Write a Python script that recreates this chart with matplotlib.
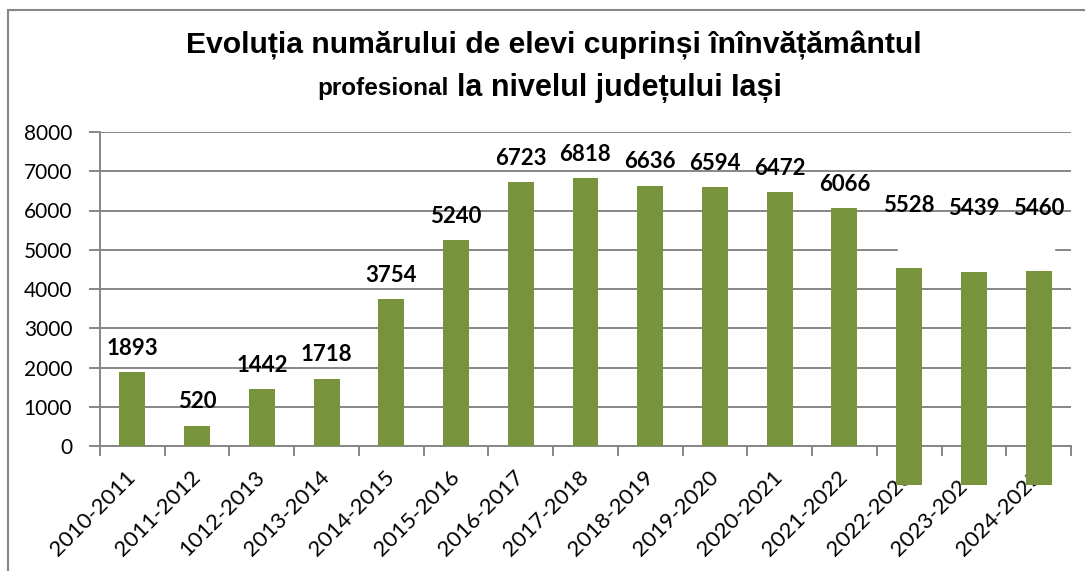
import matplotlib.pyplot as plt
import matplotlib.patches as mpatches
import numpy as np

# data
years = ["2010-2011", "2011-2012", "1012-2013", "2013-2014", "2014-2015",
         "2015-2016", "2016-2017", "2017-2018", "2018-2019", "2019-2020",
         "2020-2021", "2021-2022", "2022-2023", "2023-2024", "2024-2025"]
elevi = [1893, 520, 1442, 1718, 3754, 5240, 6723, 6818, 6636, 6594,
         6472, 6066, 5528, 5439, 5460]
# the last three bars are drawn shifted down in the original picture
shift = [0] * 12 + [-1000, -1000, -1000]

green = '#77933C'
grey = '#868686'

plt.rcParams['font.family'] = ['Lato', 'DejaVu Sans']
plt.rcParams['axes.axisbelow'] = True

fig = plt.figure(figsize=(10.85, 5.71), dpi=100)
ax = fig.add_axes([100 / 1085, 1 - 446 / 571, 971 / 1085, 314 / 571])

x = np.arange(len(years))
ax.bar(x, elevi, bottom=shift, width=0.4, color=green, zorder=3, clip_on=False)

for xi, v in zip(x, elevi):
    ax.annotate(str(v), (xi, v), xytext=(0, 17), textcoords='offset points',
                ha='center', va='center', fontsize=16, fontweight='bold',
                color='black', zorder=4)

ax.set_xlim(-0.5, len(years) - 0.5)
ax.set_ylim(0, 8000)
ax.set_yticks(range(0, 8001, 1000))
ax.yaxis.grid(True, color=grey, linewidth=1.4)
ax.tick_params(axis='y', length=8, width=1.4, color=grey, labelsize=15, pad=12)

# white patch over the 5000 gridline on the right side
ax.add_patch(mpatches.Rectangle((11.82, 4850), 2.41, 300, color='white',
                                zorder=2, clip_on=False))

ax.set_xticks(x)
ax.set_xticklabels(years, rotation=45, ha='right', va='center',
                   rotation_mode='anchor', fontsize=16)
ax.tick_params(axis='x', which='major', length=0, pad=20)
ax.set_xticks(np.arange(-0.5, len(years), 1), minor=True)
ax.tick_params(axis='x', which='minor', length=7, width=1.4, color=grey)

for side in ['top', 'right']:
    ax.spines[side].set_visible(False)
for side in ['left', 'bottom']:
    ax.spines[side].set_color(grey)
    ax.spines[side].set_linewidth(1.4)

# title
tfont = ['Liberation Sans', 'DejaVu Sans']
fig.text(0.51, 1 - 45 / 571, "Evoluția numărului de elevi cuprinși înînvățământul",
         ha='center', va='center', fontsize=21.7, fontweight='bold', family=tfont)
fig.text(449 / 1085, 1 - 89 / 571, "profesional", ha='right', va='center',
         fontsize=17.5, fontweight='bold', family=tfont)
fig.text(457 / 1085, 1 - 88 / 571, "la nivelul județului Iași", ha='left',
         va='center', fontsize=22, fontweight='bold', family=tfont)

# chart border
fig.patches.append(mpatches.Rectangle((8 / 1085, -0.1), 1.2, 1.1 - 10 / 571,
                                      transform=fig.transFigure, fill=False,
                                      edgecolor=grey, linewidth=1.5))

plt.savefig("out.png", dpi=100)
